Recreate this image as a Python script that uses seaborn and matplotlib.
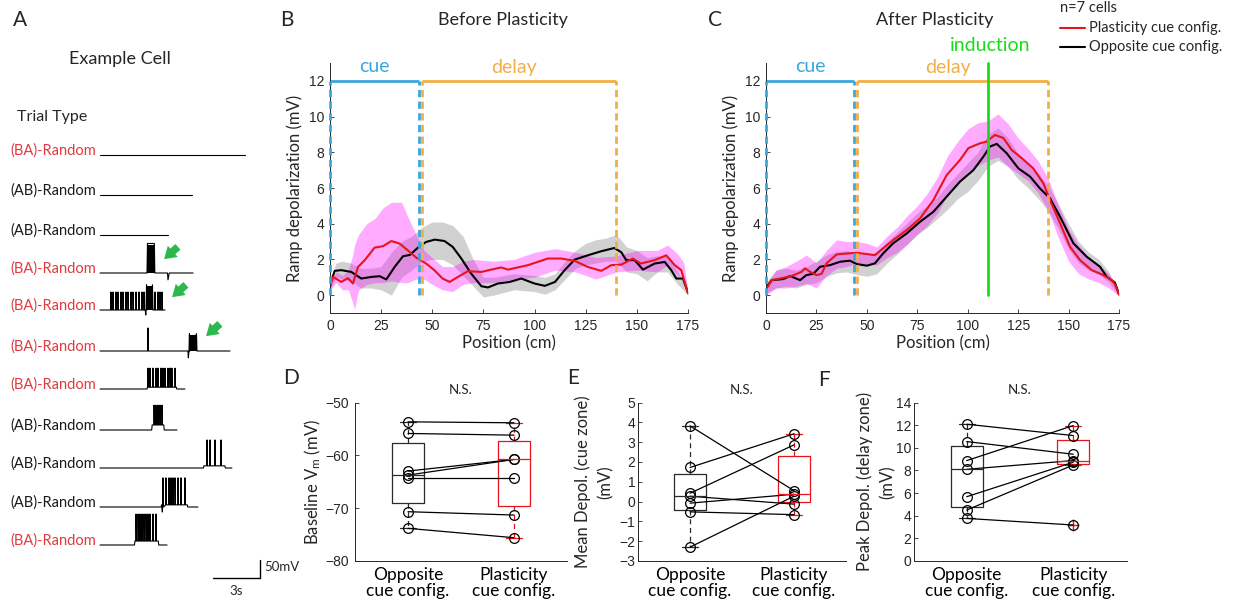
import numpy as np
import pandas as pd
import matplotlib.pyplot as plt
from matplotlib.lines import Line2D
import seaborn as sns

# ---------------- data ----------------
# Panel A: example cell traces (time in s, mV)
trial_labels = ['(BA)-Random', '(AB)-Random', '(AB)-Random', '(BA)-Random', '(BA)-Random',
                '(BA)-Random', '(BA)-Random', '(AB)-Random', '(AB)-Random', '(AB)-Random',
                '(BA)-Random']
trial_dur = [9.25, 5.87, 4.34, 5.94, 4.15, 8.3, 5.42, 4.91, 8.42, 6.25, 4.28]
trial_spike_amp = [0, 0, 0, 0, 50, 64, 53, 55, 72, 75, 75]
trial_spikes = [
    [], [], [], [],
    [0.70, 0.83, 1.02, 1.15, 1.34, 1.47, 1.66, 1.79, 1.98, 2.11, 2.30, 2.49, 2.68, 2.81,
     3.51, 3.70, 3.83, 3.96],
    [3.06],
    [3.06, 3.19, 3.38, 3.57, 3.70, 3.89, 4.02, 4.15, 4.34, 4.47, 4.59, 4.79],
    [3.45, 3.57, 3.70, 3.83, 3.96],
    [6.83, 7.02, 7.34, 7.72],
    [4.02, 4.21, 4.40, 4.53, 4.66, 4.79, 4.98, 5.17, 5.42],
    [2.30, 2.43, 2.55, 2.68, 2.81, 2.94, 3.06, 3.19, 3.38, 3.57],
]
trial_depol = [[], [], [], [(3.0, 3.5, 82)], [(2.94, 3.38, 70)], [(5.68, 6.19, 48)],
               [(3.0, 4.9, 5)], [(3.3, 4.1, 14)], [(6.6, 8.0, 6)], [(3.9, 5.6, 6)],
               [(2.2, 3.75, 11)]]
trial_dips = [[], [], [], [(4.34, 19)], [(2.92, 14)], [(5.64, 19)], [], [], [], [(3.98, 14)], []]

# Panel B (before plasticity)
b_red_pos = [0, 1.5, 5.5, 8.8, 11.2, 13.7, 17, 21.8, 25.9, 30, 34, 38, 42.2, 47, 51, 55, 58.5,
             62.5, 67.4, 74, 78.8, 83.7, 87, 96.8, 106.5, 113, 119.6, 126, 132.6, 137.5, 142.4,
             148, 152, 158.7, 164.4, 168.5, 171.7, 175]
b_red_val = [0.46, 1.02, 0.74, 0.95, 0.65, 1.58, 1.96, 2.66, 2.74, 3.03, 2.89, 2.51, 2.1, 1.77,
             1.4, 0.93, 0.74, 1.02, 1.34, 1.3, 1.43, 1.55, 1.43, 1.68, 2.05, 2.05, 1.92, 1.58,
             1.36, 1.68, 1.71, 2.05, 1.77, 1.96, 2.23, 1.68, 1.4, 0.1]
b_black_pos = [0, 2.3, 5.5, 10.4, 15.3, 20.2, 24.3, 27.5, 31.6, 35.7, 39, 43, 47, 51.2, 56, 60,
               64.2, 69, 74, 77.2, 82, 87.8, 93.5, 100, 105, 110, 114.7, 119.6, 126, 132.6, 139,
               142.4, 144.8, 148.9, 153, 158.7, 163.6, 166.8, 169.3, 172.5, 175]
b_black_val = [0.6, 1.36, 1.4, 1.3, 0.93, 1.02, 1.06, 0.88, 1.58, 2.18, 2.25, 2.66, 2.98, 3.11,
               3.03, 2.7, 2.05, 1.21, 0.5, 0.43, 0.65, 0.74, 0.93, 0.65, 0.52, 0.74, 1.4, 1.99,
               2.23, 2.46, 2.64, 2.4, 1.96, 1.96, 1.43, 1.77, 1.86, 1.4, 0.93, 0.93, 0.15]
b_red_band_pos = [0, 3, 6, 9, 11, 12, 14, 18, 22, 26, 30, 35, 38, 42, 46, 50, 55, 60, 65, 70, 80,
                  90, 100, 110, 120, 130, 140, 150, 160, 165, 170, 173, 175]
b_red_band_hi = [0.7, 1.3, 1.1, 1.4, 2.2, 2.8, 3.4, 4.0, 4.3, 4.9, 5.2, 5.2, 4.4, 3.4, 2.5, 2.1,
                 1.6, 1.6, 1.9, 2.0, 1.9, 2.0, 2.4, 2.6, 2.4, 2.1, 2.2, 2.5, 2.5, 2.8, 2.3, 1.8, 0.2]
b_red_band_lo = [0.3, 0.7, 0.3, 0.3, -0.4, -0.8, 0.3, 0.6, 0.7, 0.7, 0.8, 0.7, 0.7, 0.9, 0.9, 0.6,
                 0.3, 0.2, 0.6, 0.7, 0.7, 0.9, 1.0, 1.4, 1.3, 0.9, 1.3, 1.4, 1.3, 1.7, 1.1, 0.9, 0.0]
b_black_band_pos = [0, 3, 6, 10, 15, 20, 25, 30, 35, 40, 45, 50, 55, 60, 65, 70, 75, 80, 90, 100,
                    105, 110, 115, 120, 125, 130, 135, 140, 145, 150, 155, 160, 165, 170, 175]
b_black_band_hi = [0.9, 1.8, 1.9, 1.8, 1.5, 1.5, 1.6, 2.4, 3.0, 3.3, 3.8, 4.1, 4.1, 3.9, 3.3, 2.0,
                   1.0, 1.0, 1.2, 1.1, 1.0, 1.2, 1.9, 2.5, 2.9, 3.1, 3.2, 3.4, 2.7, 2.5, 2.1, 2.2,
                   2.2, 1.3, 0.2]
b_black_band_lo = [0.3, 1.0, 0.9, 0.8, 0.4, 0.4, 0.3, 0.0, 1.0, 1.4, 1.9, 2.0, 2.0, 1.7, 1.1, 0.5,
                   -0.1, 0.0, 0.3, 0.2, 0.05, 0.3, 0.9, 1.5, 1.7, 1.8, 1.9, 1.9, 1.3, 1.2, 0.8, 1.3,
                   1.3, 0.6, 0.0]

# Panel C (after plasticity)
c_red_pos = [0, 2.8, 6.9, 12.7, 17.7, 19.3, 21.8, 25.1, 27.6, 30, 35, 40, 45, 50, 54, 58, 63,
             69.8, 76.4, 83, 89.6, 96.2, 100.3, 106, 109.4, 113.5, 117.7, 121.8, 126.8, 132.5,
             137.5, 140.8, 145.8, 150.7, 155.7, 161.5, 167.2, 171.4, 173, 175]
c_red_val = [0.3, 0.84, 0.93, 1.07, 1.31, 1.5, 1.31, 1.12, 1.2, 1.78, 2.28, 2.33, 2.37, 2.3, 2.24,
             2.62, 3.08, 3.65, 4.3, 5.33, 6.73, 7.57, 8.23, 8.5, 8.6, 8.97, 8.8, 8.13, 7.67, 7.1,
             6.26, 5.33, 4.02, 2.71, 1.96, 1.4, 1.12, 0.84, 0.6, 0.05]
c_black_pos = [0, 2.8, 8.6, 12, 16.9, 20, 23.5, 26.8, 31.7, 36.7, 41.6, 45, 50, 54, 58, 63, 69.8,
               76.4, 83, 89.6, 96.2, 102.8, 107.8, 111, 114.4, 119.3, 125.1, 130.9, 135.8, 140.8,
               145.8, 152.4, 159, 165.6, 168.9, 173, 175]
c_black_val = [0.4, 0.84, 0.9, 1.07, 0.84, 1.12, 1.2, 1.59, 1.68, 1.87, 1.93, 1.74, 1.65, 1.78,
               2.33, 2.9, 3.46, 4.11, 4.67, 5.52, 6.36, 7.0, 7.76, 8.32, 8.47, 7.95, 7.1, 6.64,
               5.98, 5.42, 4.39, 2.9, 2.15, 1.59, 1.03, 0.7, 0.05]
c_band_pos = [0, 5, 10, 15, 20, 25, 30, 35, 40, 45, 50, 55, 60, 65, 70, 75, 80, 85, 90, 95, 100,
              105, 110, 115, 120, 125, 130, 135, 140, 145, 150, 155, 160, 165, 170, 175]
c_red_band_hi = [0.6, 1.4, 1.6, 1.9, 2.25, 1.8, 2.5, 3.1, 3.0, 3.0, 2.9, 2.7, 3.3, 3.8, 4.45, 5.0,
                 5.7, 6.6, 7.8, 8.6, 9.3, 9.65, 9.75, 10.15, 9.6, 8.8, 8.2, 7.5, 6.5, 5.0, 3.7,
                 2.8, 2.1, 1.7, 1.2, 0.15]
c_red_band_lo = [0.0, 0.4, 0.4, 0.5, 0.65, 0.4, 1.1, 1.5, 1.6, 1.8, 1.7, 1.7, 2.1, 2.4, 2.85, 3.4,
                 3.9, 4.6, 5.6, 6.2, 6.9, 7.25, 7.55, 7.75, 7.2, 6.8, 6.4, 5.7, 4.7, 3.2, 1.9, 1.2,
                 0.9, 0.7, 0.4, -0.05]
c_black_band_hi = [0.7, 1.4, 1.5, 1.4, 1.6, 1.9, 2.25, 2.45, 2.5, 2.35, 2.25, 2.4, 3.0, 3.5, 4.05,
                   4.6, 5.0, 5.5, 6.2, 6.8, 7.4, 8.0, 9.0, 9.35, 8.8, 7.9, 7.4, 6.8, 6.1, 5.1, 4.0,
                   3.0, 2.4, 2.0, 1.3, 0.15]
c_black_band_lo = [0.1, 0.4, 0.5, 0.4, 0.6, 0.7, 1.05, 1.25, 1.3, 1.15, 1.05, 1.2, 1.8, 2.3, 2.85,
                   3.4, 3.8, 4.3, 4.8, 5.4, 5.8, 6.4, 7.2, 7.55, 7.2, 6.5, 6.0, 5.4, 4.7, 3.7, 2.6,
                   1.8, 1.4, 1.2, 0.7, -0.05]

cue_zone = (0, 43.7)
delay_zone = (44.9, 140)
induction_pos = 110

# Panels D-F: per-cell values (same cell order in both groups)
d_opp = [-53.66, -55.86, -62.98, -63.74, -64.37, -70.67, -73.82]
d_pla = [-53.84, -56.18, -60.78, -60.78, -64.37, -71.3, -75.59]
e_opp = [3.82, 1.72, 0.42, 0.27, -0.08, -0.52, -2.3]
e_pla = [0.55, 3.42, 2.86, -0.13, 0.37, -0.66, 0.27]
f_opp = [12.08, 10.55, 8.87, 8.1, 5.68, 4.5, 3.76]
f_pla = [11.08, 9.43, 11.96, 8.87, 8.72, 8.48, 3.18]
group_labels = ['Opposite\ncue config.', 'Plasticity\ncue config.']

# ---------------- style ----------------
sns.set_theme(style='ticks')
plt.rcParams['font.family'] = ['Lato', 'DejaVu Sans']
plt.rcParams['mathtext.fontset'] = 'custom'
plt.rcParams['mathtext.rm'] = 'Lato'
plt.rcParams['mathtext.it'] = 'Lato:italic'

RED = '#E8141C'
LABEL_RED = '#E03A3E'
MAGENTA = '#FF00FF'
GRAY = '#9A9A9A'
BLUE = '#3AA8DC'
ORANGE = '#F2AE45'
GREEN = '#19DB19'
AX_COL = '#262626'

W, H = 1250, 604
fig = plt.figure(figsize=(12.5, 6.04), dpi=100)


def fx(px):
    return px / W


def fy(py):
    return 1 - py / H


def ftext(px, py, s, **kw):
    fig.text(fx(px), fy(py), s, **kw)


def style_axes(ax, pad=4):
    sns.despine(ax=ax)
    for sp in ['left', 'bottom']:
        ax.spines[sp].set_color(AX_COL)
        ax.spines[sp].set_linewidth(0.7)
    ax.tick_params(direction='in', length=3, width=0.6, color=AX_COL, labelcolor=AX_COL,
                   labelsize=10, labelfontfamily='Liberation Sans', pad=pad)


# ---------------- Panel A ----------------
px_per_s = 47 / 3
px_per_mv = 18 / 50
axA = fig.add_axes([0, 0, fx(280), 1])
axA.set_xlim(-100 / px_per_s, 180 / px_per_s)
axA.set_ylim(0, H / px_per_mv)
axA.axis('off')

row_py = [155, 195, 235, 273, 310, 351, 389, 430, 468, 507, 545]


def a_xy(px, py):
    return ((px - 100) / px_per_s, (H - py) / px_per_mv)


for i, lab in enumerate(trial_labels):
    off = (H - row_py[i]) / px_per_mv
    depols = trial_depol[i]

    def base(t):
        for t0, t1, h in depols:
            if t0 <= t <= t1:
                return h
        return 0.0

    pts = [(0.0, 0.0), (trial_dur[i], 0.0)]
    for t0, t1, h in depols:
        pts += [(t0, 0.0), (t0 + 0.03, h), (t1 - 0.03, h), (t1, 0.0)]
    for t in trial_spikes[i]:
        b = base(t)
        pts += [(t - 0.02, b), (t, b + trial_spike_amp[i]), (t + 0.03, b)]
    for t, d in trial_dips[i]:
        pts += [(t - 0.03, 0.0), (t, -d), (t + 0.08, 0.0)]
    pts.sort()
    tx, vy = zip(*pts)
    axA.plot(tx, np.array(vy) + off, color='black', lw=0.8)
    for t0, t1, h in depols:
        if h > 40:
            axA.fill_between([t0, t1], off, off + h * 0.95, color='black', lw=0)
    col = LABEL_RED if lab.startswith('(BA)') else '#1a1a1a'
    axA.text(-0.25, off + 11, lab, ha='right', va='center', color=col, fontsize=10.5)

for tail, head in [((180, 245), (162, 261)), ((188, 283), (170, 299)), ((222, 322), (204, 338))]:
    axA.annotate('', xy=a_xy(*head), xytext=a_xy(*tail),
                 arrowprops=dict(arrowstyle='simple,head_width=0.9,head_length=0.7,tail_width=0.45',
                                 color='#2DB84D', lw=0))

# scale bar: 3 s, 50 mV
sb_t, sb_v = a_xy(213, 578)
axA.plot([sb_t, sb_t + 3, sb_t + 3], [sb_v, sb_v, sb_v + 50], color='black', lw=1)
axA.text(sb_t + 3.3, sb_v + 30, '50mV', fontsize=9.5, va='center', ha='left')
axA.text(sb_t + 1.5, sb_v - 20, '3s', fontsize=9.5, va='top', ha='center')

ftext(13, 20, 'A', fontsize=15, va='center')
ftext(120, 59, 'Example Cell', fontsize=13, ha='center', va='center')
ftext(17, 117, 'Trial Type', fontsize=11.5, ha='left', va='center')


# ---------------- Panels B and C ----------------
def ramp_panel(rect, red_pos, red_val, blk_pos, blk_val, rb_pos, rb_lo, rb_hi,
               kb_pos, kb_lo, kb_hi, induction=False):
    ax = fig.add_axes(rect)
    ax.fill_between(kb_pos, kb_lo, kb_hi, color=GRAY, alpha=0.45, lw=0)
    ax.fill_between(rb_pos, rb_lo, rb_hi, color=MAGENTA, alpha=0.33, lw=0)
    sns.lineplot(x=blk_pos, y=blk_val, color='black', lw=1.5, ax=ax)
    sns.lineplot(x=red_pos, y=red_val, color=RED, lw=1.5, ax=ax)
    dash = (0, (2.6, 1.6))
    ax.plot(cue_zone, [12, 12], color=BLUE, lw=2, clip_on=False, solid_capstyle='butt')
    ax.plot(delay_zone, [12, 12], color=ORANGE, lw=2, clip_on=False, solid_capstyle='butt')
    for xv in cue_zone:
        ax.plot([xv, xv], [0, 12], color=BLUE, lw=2, ls=dash, clip_on=False, zorder=3)
    for xv in delay_zone:
        ax.plot([xv, xv], [0, 12], color=ORANGE, lw=2, ls=dash, clip_on=False, zorder=3)
    ax.text(np.mean(cue_zone), 12.3, 'cue', color=BLUE, fontsize=14, ha='center', va='bottom')
    ax.text(90, 12.3, 'delay', color=ORANGE, fontsize=14, ha='center', va='bottom')
    if induction:
        ax.plot([induction_pos, induction_pos], [0, 13], color=GREEN, lw=2, clip_on=False)
        ax.text(111, 14.0, 'induction', color=GREEN, fontsize=14, ha='center', va='center')
    ax.set_xlim(0, 175)
    ax.set_ylim(-1, 13)
    ax.set_xticks(np.arange(0, 176, 25))
    ax.set_yticks(np.arange(0, 13, 2))
    ax.set_xlabel('Position (cm)', fontsize=12, labelpad=2)
    ax.set_ylabel('Ramp depolarization (mV)', fontsize=12, labelpad=4)
    style_axes(ax)
    return ax


axB = ramp_panel([fx(330), fy(313), fx(688) - fx(330), fy(63) - fy(313)],
                 b_red_pos, b_red_val, b_black_pos, b_black_val,
                 b_red_band_pos, b_red_band_lo, b_red_band_hi,
                 b_black_band_pos, b_black_band_lo, b_black_band_hi)
axC = ramp_panel([fx(766), fy(313), fx(1119) - fx(766), fy(63) - fy(313)],
                 c_red_pos, c_red_val, c_black_pos, c_black_val,
                 c_band_pos, c_red_band_lo, c_red_band_hi,
                 c_band_pos, c_black_band_lo, c_black_band_hi, induction=True)

ftext(280, 20, 'B', fontsize=15, va='center')
ftext(708, 20, 'C', fontsize=15, va='center')
ftext(503, 20, 'Before Plasticity', fontsize=13, ha='center', va='center')
ftext(935, 20, 'After Plasticity', fontsize=13, ha='center', va='center')

# legend
ftext(1060, 8, 'n=7 cells', fontsize=10.5, va='center')
fig.add_artist(Line2D([fx(1060), fx(1085)], [fy(28), fy(28)], color=RED, lw=1.5))
fig.add_artist(Line2D([fx(1060), fx(1085)], [fy(47), fy(47)], color='black', lw=1.5))
ftext(1089, 28, 'Plasticity cue config.', fontsize=10.5, va='center')
ftext(1089, 47, 'Opposite cue config.', fontsize=10.5, va='center')


# ---------------- Panels D, E, F ----------------
def matlab_box_stats(vals):
    v = np.asarray(vals, dtype=float)
    q1, med, q3 = np.percentile(v, [25, 50, 75], method='hazen')
    iqr = q3 - q1
    lo_f, hi_f = q1 - 1.5 * iqr, q3 + 1.5 * iqr
    inside = v[(v >= lo_f) & (v <= hi_f)]
    return dict(med=med, q1=q1, q3=q3, whislo=inside.min(), whishi=inside.max(),
                fliers=v[(v < lo_f) | (v > hi_f)])


def paired_panel(left, right, opp, pla, ylim, yticks, ylabel, label_x, pad=4):
    ax = fig.add_axes([fx(left), fy(561), fx(right) - fx(left), fy(402.5) - fy(561)])
    for k, (vals, col) in enumerate([(opp, '#2a2a2a'), (pla, RED)]):
        ax.bxp([matlab_box_stats(vals)], positions=[k + 1], widths=0.3, manage_ticks=False,
               boxprops=dict(color=col, lw=0.9), medianprops=dict(color=col, lw=0.9),
               whiskerprops=dict(color=col, lw=0.9, ls=(0, (4, 3))),
               capprops=dict(color=col, lw=0.9),
               flierprops=dict(marker='+', markeredgecolor=col, markersize=8, mew=1))
    n = len(opp)
    df = pd.DataFrame({'cell': list(range(n)) * 2,
                       'group': [1] * n + [2] * n,
                       'value': list(opp) + list(pla)})
    sns.lineplot(data=df, x='group', y='value', units='cell', estimator=None, color='black',
                 lw=0.9, marker='o', markersize=7, markerfacecolor='none',
                 markeredgecolor='black', markeredgewidth=0.9, ax=ax)
    ax.set_xlim(0.5, 2.5)
    ax.set_ylim(*ylim)
    ax.set_yticks(yticks)
    ax.set_xticks([1, 2])
    ax.set_xticklabels(group_labels, fontsize=12.5, linespacing=1.0, color='black')
    ax.set_xlabel('')
    ax.set_ylabel('')
    style_axes(ax, pad=pad)
    ax.tick_params(axis='x', length=0, labelcolor='black', labelsize=12.5, pad=4)
    for t in ax.get_xticklabels():
        t.set_fontfamily(['Lato', 'DejaVu Sans'])
    ax.set_title('N.S.', fontsize=9.5, pad=6)
    fig.text(fx(label_x), ax.get_position().y0 + ax.get_position().height / 2, ylabel,
             rotation=90, ha='center', va='center', fontsize=12, linespacing=1.45)
    return ax


axD = paired_panel(355, 567, d_opp, d_pla, (-80, -50), np.arange(-80, -49, 10),
                   'Baseline V$_\\mathrm{m}$ (mV)', 313)
axE = paired_panel(638, 846, e_opp, e_pla, (-3, 5), np.arange(-3, 6, 1),
                   'Mean Depol. (cue zone)\n(mV)', 594, pad=2)
axF = paired_panel(913.5, 1126.5, f_opp, f_pla, (0, 14), np.arange(0, 15, 2),
                   'Peak Depol. (delay zone)\n(mV)', 876, pad=1.5)

ftext(283, 378, 'D', fontsize=15, va='center')
ftext(567, 378, 'E', fontsize=15, va='center')
ftext(818, 380, 'F', fontsize=15, va='center')

fig.savefig('out.png', dpi=100)
